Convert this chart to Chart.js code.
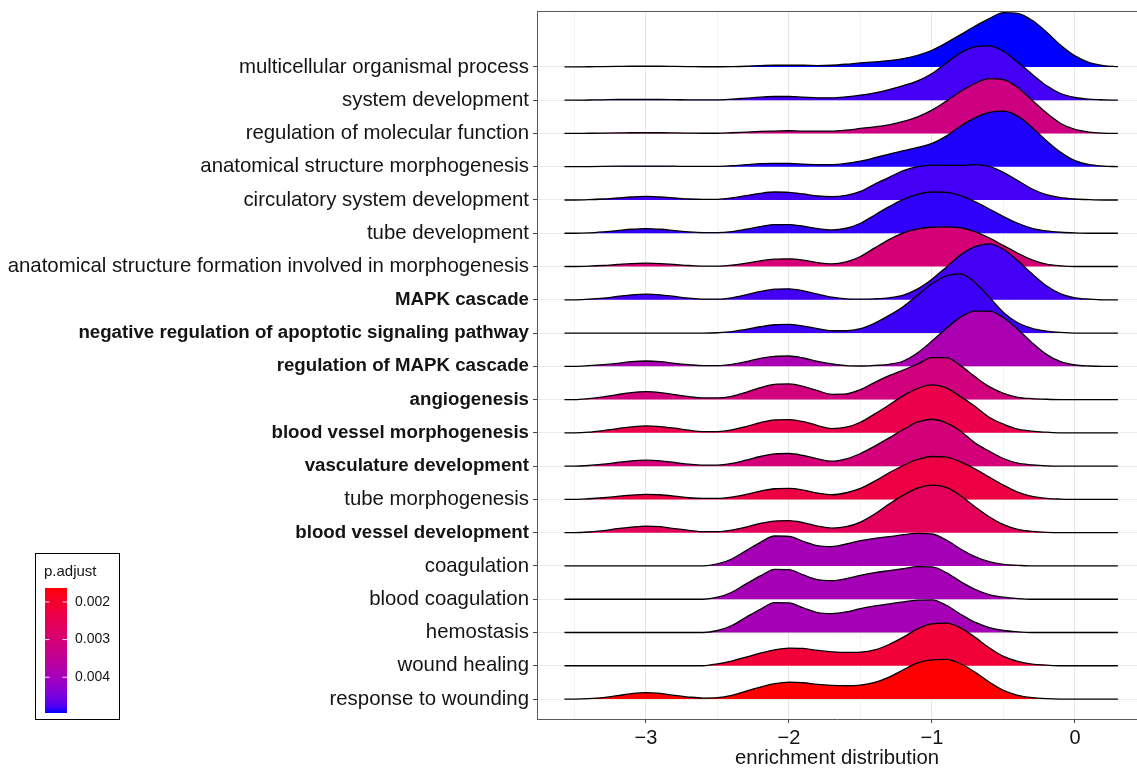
<!DOCTYPE html>
<html>
<head>
<meta charset="utf-8">
<title>Enrichment distribution ridgeline</title>
<script src="https://cdn.jsdelivr.net/npm/chart.js@4.4.1/dist/chart.umd.min.js"></script>
<style>
  html, body { margin: 0; padding: 0; background: #ffffff; }
  #wrap { width: 1137px; height: 769px; position: relative; }
</style>
</head>
<body>
<div id="wrap"><canvas id="ridges" width="1137" height="769"></canvas></div>
<script>
// GO terms, listed top to bottom
const terms = [
  "multicellular organismal process",
  "system development",
  "regulation of molecular function",
  "anatomical structure morphogenesis",
  "circulatory system development",
  "tube development",
  "anatomical structure formation involved in morphogenesis",
  "MAPK cascade",
  "negative regulation of apoptotic signaling pathway",
  "regulation of MAPK cascade",
  "angiogenesis",
  "blood vessel morphogenesis",
  "vasculature development",
  "tube morphogenesis",
  "blood vessel development",
  "coagulation",
  "blood coagulation",
  "hemostasis",
  "wound healing",
  "response to wounding"
];

// terms printed in bold on the axis
const boldTerms = [
  "MAPK cascade",
  "negative regulation of apoptotic signaling pathway",
  "regulation of MAPK cascade",
  "angiogenesis",
  "blood vessel morphogenesis",
  "vasculature development",
  "blood vessel development"
];

// adjusted p-value of each term (same order as terms)
const pAdjust = [
  0.00495, 0.00482, 0.00320, 0.00492, 0.00482,
  0.00488, 0.00302, 0.00482, 0.00484, 0.00389,
  0.00312, 0.00239, 0.00306, 0.00229, 0.00263,
  0.00395, 0.00395, 0.00395, 0.00213, 0.00163
];

// legend breaks for p.adjust
const legendBreaks = [0.002, 0.003, 0.004];

// x positions where each density curve is sampled
const xGrid = [
  -3.57, -3.5, -3.4, -3.3, -3.2, -3.1, -3.0, -2.9, -2.8, -2.7,
  -2.6, -2.5, -2.4, -2.3, -2.2, -2.1, -2.0, -1.9, -1.8, -1.7,
  -1.6, -1.5, -1.4, -1.3, -1.2, -1.1, -1.0, -0.9, -0.8, -0.7,
  -0.6, -0.5, -0.4, -0.3, -0.2, -0.1, 0.0, 0.1, 0.2, 0.3
];

// x axis breaks (integers labelled, halves as minor grid)
const xBreaks = [-3.5, -3, -2.5, -2, -1.5, -1, -0.5, 0];

// scaled density heights (in row units) for each term
const dMulticellular = [0,0,.005,.01,.015,.02,.02,.02,.015,.01, .005,.005,.01,.02,.04,.05,.05,.05,.04,.05, .08,.12,.15,.19,.25,.35,.5,.72,.97,1.22, 1.45,1.63,1.61,1.4,1.05,.65,.33,.13,.04,.01];
const dSystemDev = [0,0,.005,.01,.02,.02,.02,.02,.015,.01, .01,.01,.03,.06,.09,.11,.11,.09,.07,.07, .1,.15,.22,.32,.44,.58,.8,1.12,1.42,1.6, 1.63,1.47,1.14,.78,.44,.2,.08,.03,.01,0];
const dRegMolFunction = [0,0,.005,.01,.015,.02,.02,.02,.015,.01, .005,.005,.02,.04,.06,.07,.08,.07,.07,.07, .1,.15,.2,.26,.36,.5,.7,.97,1.26,1.5, 1.65,1.62,1.38,1.0,.62,.3,.12,.04,.01,0];
const dAnatMorpho = [0,0,.005,.01,.015,.02,.02,.02,.015,.01, .01,.01,.03,.06,.09,.1,.1,.08,.06,.06, .1,.17,.27,.38,.48,.58,.7,.92,1.22,1.47, 1.63,1.67,1.52,1.18,.78,.43,.18,.06,.02,0];
const dCirculatory = [0,0,.01,.03,.06,.09,.11,.09,.06,.03, .02,.02,.06,.13,.2,.24,.23,.18,.12,.1, .14,.26,.48,.68,.88,1.0,1.05,1.04,1.04,1.06, 1.01,.83,.58,.33,.16,.07,.03,.01,0,0];
const dTubeDev = [0,0,.01,.04,.08,.12,.14,.12,.08,.04, .02,.02,.05,.12,.2,.26,.26,.21,.14,.1, .15,.3,.55,.8,1.02,1.17,1.24,1.23,1.13,.95, .73,.5,.3,.15,.07,.03,.01,0,0,0];
const dAnatFormation = [0,0,.01,.03,.06,.09,.1,.09,.06,.03, .01,.01,.04,.1,.17,.22,.23,.19,.12,.08, .14,.3,.56,.81,1.01,1.13,1.18,1.19,1.16,1.05, .86,.63,.4,.2,.07,.02,0,0,0,0];
const dMapk = [0,0,.02,.05,.1,.15,.17,.15,.1,.05, .02,.02,.06,.15,.25,.32,.33,.27,.17,.08, .03,.02,.03,.06,.14,.33,.62,.98,1.35,1.6, 1.68,1.52,1.18,.78,.42,.18,.06,.02,0,0];
const dNegApoptotic = [0,0,0,0,0,0,0,0,0,0, 0,.01,.04,.11,.19,.25,.26,.21,.13,.07, .07,.13,.3,.53,.8,1.14,1.48,1.72,1.78,1.52, 1.08,.62,.31,.14,.06,.02,0,0,0,0];
const dRegMapk = [0,0,.02,.05,.09,.14,.16,.14,.09,.05, .02,.02,.06,.14,.24,.3,.31,.25,.15,.07, .02,.01,.03,.06,.16,.41,.76,1.14,1.48,1.66, 1.66,1.46,1.11,.71,.36,.14,.04,.01,0,0];
const dAngiogenesis = [0,0,.03,.08,.15,.21,.24,.21,.15,.09, .05,.05,.1,.22,.36,.46,.47,.4,.27,.16, .17,.3,.52,.72,.89,1.07,1.26,1.26,1.02,.69, .39,.19,.07,.03,.01,0,0,0,0,0];
const dBvMorpho = [0,0,.02,.07,.13,.18,.21,.19,.14,.08, .04,.04,.09,.19,.31,.39,.4,.34,.22,.13, .17,.32,.57,.84,1.12,1.34,1.44,1.35,1.09,.8, .47,.26,.11,.05,.02,0,0,0,0,0];
const dVasculature = [0,0,.02,.06,.11,.16,.18,.16,.11,.06, .03,.03,.08,.18,.29,.37,.38,.32,.22,.15, .22,.38,.6,.85,1.1,1.33,1.41,1.3,1.05,.7, .45,.23,.09,.04,.01,0,0,0,0,0];
const dTubeMorpho = [0,0,.02,.05,.09,.13,.15,.14,.1,.05, .03,.03,.07,.15,.25,.32,.33,.28,.19,.14, .2,.33,.55,.8,1.02,1.2,1.29,1.27,1.13,.92, .67,.43,.22,.09,.03,.01,0,0,0,0];
const dBvDev = [0,0,.02,.06,.12,.17,.2,.18,.12,.07, .03,.03,.08,.17,.28,.35,.36,.3,.2,.14, .18,.32,.56,.86,1.13,1.34,1.43,1.36,1.11,.78, .48,.24,.1,.04,.01,0,0,0,0,0];
const dCoagulation = [0,0,0,0,0,0,0,0,0,0, 0,.06,.21,.46,.71,.9,.89,.74,.61,.58, .66,.76,.83,.88,.94,.98,.96,.78,.51,.28, .13,.05,.02,0,0,0,0,0,0,0];
const dBloodCoag = [0,0,0,0,0,0,0,0,0,0, 0,.06,.21,.46,.7,.9,.89,.73,.59,.56, .62,.72,.8,.86,.92,.98,.97,.8,.53,.3, .14,.06,.02,0,0,0,0,0,0,0];
const dHemostasis = [0,0,0,0,0,0,0,0,0,0, 0,.06,.21,.46,.7,.9,.89,.74,.6,.57, .62,.72,.8,.86,.92,.97,.98,.82,.55,.31, .15,.06,.02,0,0,0,0,0,0,0];
const dWoundHealing = [0,0,0,0,0,0,0,0,0,0, 0,.06,.14,.26,.38,.48,.53,.52,.46,.42, .4,.41,.48,.64,.86,1.11,1.26,1.28,1.14,.86, .54,.28,.13,.05,.02,0,0,0,0,0];
const dResponseWounding = [0,0,.01,.04,.1,.16,.19,.17,.11,.06, .03,.04,.11,.24,.36,.46,.51,.49,.44,.41, .4,.42,.5,.66,.88,1.09,1.18,1.19,1.06,.81, .51,.26,.11,.04,.01,0,0,0,0,0];

const densities = [
  dMulticellular, dSystemDev, dRegMolFunction, dAnatMorpho, dCirculatory,
  dTubeDev, dAnatFormation, dMapk, dNegApoptotic, dRegMapk,
  dAngiogenesis, dBvMorpho, dVasculature, dTubeMorpho, dBvDev,
  dCoagulation, dBloodCoag, dHemostasis, dWoundHealing, dResponseWounding
];

// ---- colour ramp: red (low p) to blue (high p), interpolated in CIE Lab ----
function toLinear(c) { c /= 255; return c <= 0.04045 ? c / 12.92 : Math.pow((c + 0.055) / 1.055, 2.4); }
function toSrgb(v) {
  v = Math.min(1, Math.max(0, v));
  const s = v <= 0.0031308 ? 12.92 * v : 1.055 * Math.pow(v, 1 / 2.4) - 0.055;
  return Math.round(s * 255);
}
function rgbToLab(rgb) {
  const R = toLinear(rgb[0]), G = toLinear(rgb[1]), B = toLinear(rgb[2]);
  const X = (0.4124 * R + 0.3576 * G + 0.1805 * B) / 0.95047;
  const Y = 0.2126 * R + 0.7152 * G + 0.0722 * B;
  const Z = (0.0193 * R + 0.1192 * G + 0.9505 * B) / 1.08883;
  const f = t => t > 0.008856 ? Math.cbrt(t) : 7.787 * t + 16 / 116;
  return [116 * f(Y) - 16, 500 * (f(X) - f(Y)), 200 * (f(Y) - f(Z))];
}
function labToCss(lab) {
  const fy = (lab[0] + 16) / 116, fx = fy + lab[1] / 500, fz = fy - lab[2] / 200;
  const inv = t => t * t * t > 0.008856 ? t * t * t : (t - 16 / 116) / 7.787;
  const X = 0.95047 * inv(fx), Y = inv(fy), Z = 1.08883 * inv(fz);
  const R = 3.2406 * X - 1.5372 * Y - 0.4986 * Z;
  const G = -0.9689 * X + 1.8758 * Y + 0.0415 * Z;
  const B = 0.0557 * X - 0.2040 * Y + 1.0570 * Z;
  return `rgb(${toSrgb(R)},${toSrgb(G)},${toSrgb(B)})`;
}
const labLow = rgbToLab([255, 0, 0]);
const labHigh = rgbToLab([0, 0, 255]);
const pMin = Math.min(...pAdjust);
const pMax = Math.max(...pAdjust);
function rampAt(t) {
  return labToCss([0, 1, 2].map(k => labLow[k] + (labHigh[k] - labLow[k]) * t));
}
function fillFor(p) { return rampAt((p - pMin) / (pMax - pMin)); }

// ---- datasets: bottom row first so lower ridges paint over upper ones ----
const nRows = terms.length;
const datasets = [];
for (let i = nRows - 1; i >= 0; i--) {
  const base = nRows - i;
  datasets.push({
    label: terms[i],
    data: xGrid.map((x, k) => ({ x: x, y: base + densities[i][k] })),
    fill: { value: base },
    backgroundColor: fillFor(pAdjust[i]),
    borderColor: "#000000",
    borderWidth: 1.3,
    pointRadius: 0,
    pointHoverRadius: 0,
    cubicInterpolationMode: "monotone"
  });
}

const textColor = "#141414";
const axisLine = "#5a5a5a";
const fontFamily = "'Liberation Sans', Arial, sans-serif";

// top border of the panel and the p.adjust colour bar
const panelAndLegend = {
  id: "panelAndLegend",
  afterDraw(chart) {
    const ctx = chart.ctx;
    const a = chart.chartArea;
    ctx.save();
    ctx.strokeStyle = axisLine;
    ctx.lineWidth = 1;
    ctx.beginPath();
    ctx.moveTo(a.left, a.top + 0.5);
    ctx.lineTo(a.right, a.top + 0.5);
    ctx.stroke();

    // legend frame
    const box = { x: 35, y: 553, w: 84, h: 166 };
    ctx.strokeStyle = "#000000";
    ctx.lineWidth = 1;
    ctx.strokeRect(box.x + 0.5, box.y + 0.5, box.w, box.h);

    ctx.fillStyle = textColor;
    ctx.font = "15px " + fontFamily;
    ctx.textAlign = "left";
    ctx.textBaseline = "middle";
    ctx.fillText("p.adjust", 44, 572);

    // colour bar: low p (red) at top, high p (blue) at bottom
    const bar = { x: 45, y: 588, w: 22, h: 125 };
    const grad = ctx.createLinearGradient(0, bar.y, 0, bar.y + bar.h);
    for (let s = 0; s <= 20; s++) grad.addColorStop(s / 20, rampAt(s / 20));
    ctx.fillStyle = grad;
    ctx.fillRect(bar.x, bar.y, bar.w, bar.h);

    ctx.font = "14px " + fontFamily;
    ctx.strokeStyle = "rgba(255,255,255,0.9)";
    ctx.lineWidth = 1;
    legendBreaks.forEach(v => {
      const yy = bar.y + (v - pMin) / (pMax - pMin) * bar.h;
      ctx.beginPath();
      ctx.moveTo(bar.x, yy); ctx.lineTo(bar.x + 4.5, yy);
      ctx.moveTo(bar.x + bar.w - 4.5, yy); ctx.lineTo(bar.x + bar.w, yy);
      ctx.stroke();
      ctx.fillStyle = textColor;
      ctx.fillText(v.toFixed(3), 75, yy);
    });
    ctx.restore();
  }
};

const isWhole = v => Math.abs(v - Math.round(v)) < 1e-9;
const isMajorTick = c => !!(c && c.tick && isWhole(c.tick.value));
const isBoldTick = c => !!(c && c.tick && boldTerms.includes(terms[nRows - c.tick.value]));

new Chart(document.getElementById("ridges"), {
  type: "line",
  data: { datasets: datasets },
  plugins: [panelAndLegend],
  options: {
    responsive: false,
    devicePixelRatio: 1,
    animation: false,
    events: [],
    layout: { padding: { left: 0, right: 0, top: 11, bottom: 0 } },
    plugins: { legend: { display: false }, tooltip: { enabled: false } },
    scales: {
      x: {
        type: "linear",
        min: -3.7622,
        max: 0.4336,
        afterBuildTicks: s => { s.ticks = xBreaks.map(v => ({ value: v })); },
        ticks: {
          autoSkip: false,
          maxRotation: 0,
          padding: 3,
          color: textColor,
          font: { size: 20, family: fontFamily },
          callback: v => isWhole(v) ? (v < 0 ? "\u2212" + Math.abs(v) : String(v)) : ""
        },
        grid: {
          color: c => isMajorTick(c) ? "#e6e6e6" : "#f0f0f0",
          lineWidth: c => isMajorTick(c) ? 1.1 : 0.8,
          tickLength: 4,
          tickColor: c => isMajorTick(c) ? "#444444" : "rgba(0,0,0,0)",
          tickWidth: 1
        },
        border: { display: true, color: axisLine, width: 1 },
        title: {
          display: true,
          text: "enrichment distribution",
          color: textColor,
          font: { size: 20.3, lineHeight: 1, family: fontFamily },
          padding: { top: 0, bottom: 0 }
        },
        afterFit: s => { s.height = 50; s.paddingLeft = 0; s.paddingRight = 0; }
      },
      y: {
        type: "linear",
        min: 0.4,
        max: 21.68,
        afterBuildTicks: s => { s.ticks = terms.map((t, i) => ({ value: nRows - i })); },
        ticks: {
          autoSkip: false,
          padding: 4,
          color: textColor,
          font: c => isBoldTick(c)
            ? { size: 18.7, family: fontFamily, weight: "bold" }
            : { size: 20.4, family: fontFamily, weight: "normal" },
          callback: v => terms[nRows - v]
        },
        grid: { color: "#ebebeb", lineWidth: 1, tickLength: 4, tickColor: "#444444" },
        border: { display: true, color: axisLine, width: 1 },
        afterFit: s => { s.width = 537; s.paddingTop = 0; s.paddingBottom = 0; }
      }
    }
  }
});
</script>
</body>
</html>
